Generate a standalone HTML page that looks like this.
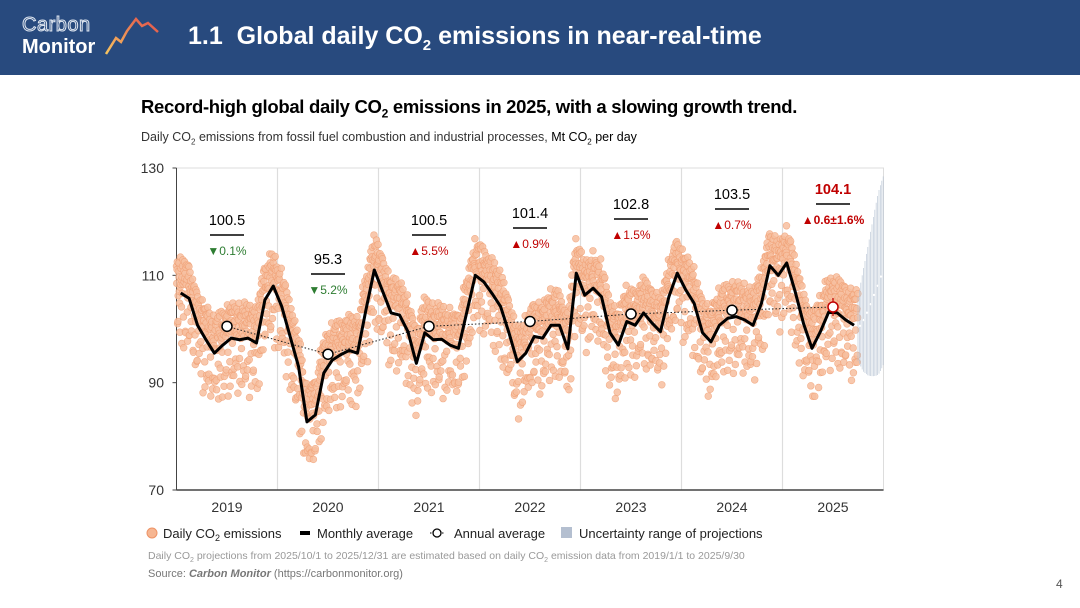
<!DOCTYPE html>
<html><head><meta charset="utf-8"><style>
body{margin:0;width:1080px;height:608px;overflow:hidden;background:#fff;font-family:"Liberation Sans",sans-serif;position:relative}
.hdr{position:absolute;left:0;top:0;width:1080px;height:75px;background:#284a7e}
.abs{position:absolute;white-space:nowrap}
</style></head><body>
<div class="hdr"></div>
<div class="abs" style="left:22px;top:14px;font-size:20px;color:#284a7e;-webkit-text-stroke:1px #dfe6f0;letter-spacing:0.5px">Carbon</div>
<div class="abs" style="left:22px;top:36px;font-size:20px;color:#fff;font-weight:bold">Monitor</div>
<svg class="abs" style="left:100px;top:14px" width="65" height="45"><defs><linearGradient id="lg" x1="0" x2="1" y1="1" y2="0"><stop offset="0" stop-color="#f6c560"/><stop offset="1" stop-color="#e2504a"/></linearGradient></defs><polyline points="6,40 16,24 21,28 27,17 36,5 42,12 48,9 58,18" fill="none" stroke="url(#lg)" stroke-width="2.5"/></svg>
<div class="abs" style="left:188px;top:22px;font-size:25px;font-weight:bold;color:#fff">1.1&nbsp; Global daily CO<sub style="font-size:15px">2</sub> emissions in near-real-time</div>
<div class="abs" style="left:141px;top:96px;font-size:18.5px;font-weight:900;color:#000;letter-spacing:-0.3px">Record-high global daily CO<sub style="font-size:12px">2</sub> emissions in 2025, with a slowing growth trend.</div>
<div class="abs" style="left:141px;top:130px;font-size:12.5px;color:#333">Daily CO<sub style="font-size:8px">2</sub> emissions from fossil fuel combustion and industrial processes, <span style="color:#000">Mt CO<sub style="font-size:8px">2</sub> per day</span></div>
<svg id="chart" class="abs" style="left:0;top:0" width="1080" height="608"></svg>
<div class="abs" style="left:148px;top:550px;font-size:10.5px;color:#999">Daily CO<sub style="font-size:7px">2</sub> projections from 2025/10/1 to 2025/12/31 are estimated based on daily CO<sub style="font-size:7px">2</sub> emission data from 2019/1/1 to 2025/9/30</div>
<div class="abs" style="left:148px;top:568px;font-size:11px;color:#777">Source: <b><i>Carbon Monitor</i></b> (https://carbonmonitor.org)</div>
<div class="abs" style="left:1056px;top:577px;font-size:12px;color:#555">4</div>
<script>
const years=[2019,2020,2021,2022,2023,2024,2025];
const yTicks=[70,90,110,130];
const monthly=[106.7,105.7,100.7,98,95.5,97,98.3,98,98.3,97.4,105.4,108,
104.2,98.6,93,82.7,84,91.8,94.2,95.2,96,95.5,103.5,111,
107,103,102.6,99.5,93.6,99.3,98,98.1,97,96.4,103.2,110,
108.8,106.6,104.2,99.3,93.9,95.5,98.6,98.3,100.7,100.7,96.3,110.4,
106.3,107.6,106,99.3,97,101.4,100.7,103,101.1,99.5,106,110.4,
107.3,104.8,99.3,97.6,100.7,102,102.3,101.7,100.7,104.8,111.8,110,
112.3,107,101,96.4,99.5,103.2,103,101.7,100.7];
const annual=[100.5,95.3,100.5,101.4,102.8,103.5,104.1];
const annualLabels=["100.5","95.3","100.5","101.4","102.8","103.5","104.1"];
const changeLabels=["▼0.1%","▼5.2%","▲5.5%","▲0.9%","▲1.5%","▲0.7%","▲0.6±1.6%"];
const weekly=[2.5,3.5,3.8,3.6,2.8,-4.5,-7.5];
const dayVar=[1.5,-2,0.8,3,-1.2,2.2,-3,0.5,1.8,-0.6,-2.5,2.6,0.2,-1.4,3.2,-2.2,1,-0.3,2,-1.8,0.6,-3.4,1.4,2.8,-0.9,0.3,-2.4,1.9,-1.1,2.4,-0.5];
const projMid=[100,101.5,103.5,106,108.5,111];
const projSpread=[8,11,13,15,17,18];
</script>
<script>
const svg=document.getElementById('chart');
const NS='http://www.w3.org/2000/svg';
const X0=176.5,YW=101,Y0=168,PX=322/60;
const yS=v=>Y0+(130-v)*PX;
const xDay=d=>X0+d/365.25*YW;
const xMon=m=>X0+(m+0.5)*YW/12;
const xYear=i=>X0+(i+0.5)*YW;
function mk(tag,at,parent){const e=document.createElementNS(NS,tag);for(const k in at)e.setAttribute(k,at[k]);(parent||svg).appendChild(e);return e;}
let fr=mk('rect',{x:X0,y:Y0,width:YW*7,height:322,fill:'none',stroke:'#ddd','stroke-width':1});


for(let i=1;i<7;i++){let l=mk('line',{x1:X0+i*YW,x2:X0+i*YW,y1:Y0,y2:490,stroke:'#ddd','stroke-width':1.2});

}
let ax=mk('line',{x1:X0,x2:X0+7*YW,y1:490,y2:490,stroke:'#444','stroke-width':1.5});


let ay=mk('line',{x1:X0,x2:X0,y1:Y0,y2:490,stroke:'#444','stroke-width':1});


yTicks.forEach(t=>{let tx=mk('text',{x:164,y:yS(t)+5,'text-anchor':'end','font-size':14,fill:'#333'});tx.textContent=t;


mk('line',{x1:X0-4,x2:X0,y1:yS(t),y2:yS(t),stroke:'#444'});});
years.forEach((yr,i)=>{let tx=mk('text',{x:xYear(i),y:512,'text-anchor':'middle','font-size':14,fill:'#333'});tx.textContent=yr;

});
const dg=mk('g',{});


let day=0;
const nMon=monthly.length;
for(let m=0;m<nMon;m++){const y=2019+Math.floor(m/12),mo=m%12;const dim=new Date(y,mo+1,0).getDate();
for(let d=0;d<dim;d++){const t=(d+0.5)/dim-0.5;const nb=t<0?monthly[Math.max(0,m-1)]:monthly[Math.min(nMon-1,m+1)];
const base=monthly[m]+(nb-monthly[m])*Math.abs(t)*0.8;
const v=base+weekly[(day+1)%7]+dayVar[d];
let c=mk('circle',{cx:xDay(day),cy:yS(v),r:3.4,fill:'#f7bf9f',stroke:'#f0a075','stroke-width':0.6,opacity:0.85},dg);


day++;}}
const pg=mk('g',{});


const pStart=xDay(6*365.25+273),pEnd=X0+7*YW;
function interp(arr,f){const idx=Math.min(arr.length-1.001,f*(arr.length-1));const a=Math.floor(idx),t=idx-a;return arr[a]*(1-t)+arr[a+1]*t;}
for(let x=pStart;x<=pEnd;x+=1.4){const f=(x-pStart)/(pEnd-pStart);
const mid=interp(projMid,f),sp=interp(projSpread,f)*(0.55+0.45*Math.abs(Math.sin(x*2.3)));
mk('line',{x1:x,x2:x,y1:yS(mid+sp),y2:yS(mid-sp),stroke:'#b3c0d1','stroke-width':0.8,opacity:0.75},pg);}
for(let x=pStart+2;x<=pEnd;x+=3.5){const f=(x-pStart)/(pEnd-pStart);
mk('circle',{cx:x,cy:yS(interp(projMid,f)),r:1.2,fill:'#fff'},pg);}
let ap=annual.map((v,i)=>xYear(i)+','+yS(v)).join(' ');
let al=mk('polyline',{points:ap,fill:'none',stroke:'#222','stroke-width':1,'stroke-dasharray':'1.5,2'});


let mp=monthly.map((v,i)=>xMon(i)+','+yS(v)).join(' ');
let ml=mk('polyline',{points:mp,fill:'none',stroke:'#000','stroke-width':3,'stroke-linejoin':'round'});


const labelY=[220,259,220,213,204,194,189];
annual.forEach((v,i)=>{const last=i===annual.length-1;const col=last?'#c00000':'#000';
if(last){mk('line',{x1:xYear(i),x2:xYear(i),y1:yS(v)-9,y2:yS(v)+9,stroke:'#c00000','stroke-width':1.2});}
let c=mk('circle',{cx:xYear(i),cy:yS(v),r:5,fill:'#fff',stroke:col,'stroke-width':1.5});


let t=mk('text',{x:xYear(i),y:labelY[i]+5,'text-anchor':'middle','font-size':14.5,'font-weight':last?'bold':'normal',fill:col});t.textContent=annualLabels[i];


mk('line',{x1:xYear(i)-17,x2:xYear(i)+17,y1:labelY[i]+15,y2:labelY[i]+15,stroke:'#000','stroke-width':1.5});
let p=mk('text',{x:xYear(i),y:labelY[i]+35,'text-anchor':'middle','font-size':12,'font-weight':last?'bold':'normal',fill:changeLabels[i][0]==='▼'?'#2e7d32':'#c00000'});p.textContent=changeLabels[i];

});
const lg=mk('g',{});


mk('circle',{cx:152,cy:533,r:5,fill:'#f6b692',stroke:'#ee9366'},lg);
let t1=mk('text',{x:163,y:538,'font-size':13,fill:'#222'},lg);t1.innerHTML='Daily CO<tspan font-size="9" dy="3">2</tspan><tspan dy="-3"> emissions</tspan>';


mk('rect',{x:300,y:531,width:10,height:4,fill:'#000'},lg);
let t2=mk('text',{x:317,y:538,'font-size':13,fill:'#222'},lg);t2.textContent='Monthly average';


mk('line',{x1:430,x2:444,y1:533,y2:533,stroke:'#000','stroke-dasharray':'1.5,1.5'},lg);
mk('circle',{cx:437,cy:533,r:4,fill:'#fff',stroke:'#000','stroke-width':1.3},lg);
let t3=mk('text',{x:454,y:538,'font-size':13,fill:'#222'},lg);t3.textContent='Annual average';


mk('rect',{x:561,y:527,width:11,height:11,fill:'#b4bfd0'},lg);
let t4=mk('text',{x:579,y:538,'font-size':13,fill:'#222'},lg);t4.textContent='Uncertainty range of projections';


</script>
</body></html>
